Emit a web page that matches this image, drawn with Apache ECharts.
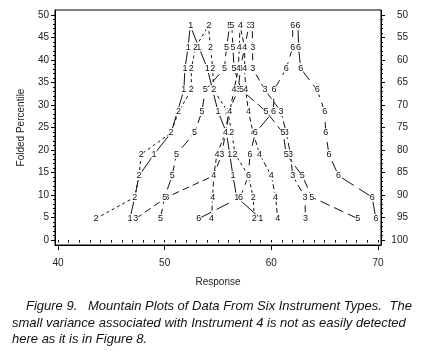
<!DOCTYPE html>
<html>
<head>
<meta charset="utf-8">
<script src="https://cdn.jsdelivr.net/npm/echarts@6/dist/echarts.min.js"></script>
<style>
html,body{margin:0;padding:0;background:#fff;}
#chart{width:426px;height:359px;}
</style>
</head>
<body>
<div id="chart"></div>
<script>
// Folded percentiles (20 observations per instrument, i/21 folded at 50)
const foldedPct = [4.76, 9.52, 14.29, 19.05, 23.81, 28.57, 33.33, 38.10, 42.86, 47.62,
                   47.62, 42.86, 38.10, 33.33, 28.57, 23.81, 19.05, 14.29, 9.52, 4.76];
// Sorted responses for each instrument type
const instrument1 = [46.75, 47.2, 47.6, 49.0, 50.6, 51.2, 51.8, 51.9, 52.2, 52.4,
                     52.45, 53.2, 54.0, 54.5, 55.0, 55.8, 56.1, 56.4, 56.75, 59.0];
const instrument2 = [43.56, 47.2, 47.6, 47.8, 50.6, 51.3, 52.5, 52.5, 52.9, 54.1,
                     54.15, 54.3, 54.5, 54.6, 55.9, 56.3, 56.6, 57.85, 58.3, 58.4];
const instrument3 = [47.3, 50.2, 54.6, 55.35, 55.7, 56.0, 56.9, 57.1, 57.5, 57.9,
                     58.2, 58.25, 58.25, 59.4, 60.9, 61.4, 61.8, 62.0, 63.15, 63.2];
const instrument4 = [54.4, 54.5, 54.6, 54.9, 55.7, 56.1, 56.5, 56.9, 57.0, 57.06,
                     57.1, 57.5, 57.5, 57.6, 57.85, 58.3, 58.9, 60.0, 60.4, 60.6];
const instrument5 = [49.6, 50.0, 50.7, 51.1, 52.8, 53.5, 53.8, 55.6, 55.8, 56.1,
                     56.3, 56.4, 56.5, 57.2, 59.5, 61.1, 61.4, 62.9, 63.8, 68.1];
const instrument6 = [53.2, 57.1, 57.85, 58.0, 58.5, 60.2, 60.25, 61.4, 62.0, 62.0,
                     62.5, 62.55, 62.75, 64.3, 65.0, 65.1, 65.4, 66.3, 69.45, 69.8];
const instrumentNames = ['1', '2', '3', '4', '5', '6'];
const xTicks = [40, 50, 60, 70];
const yTicks = [0, 5, 10, 15, 20, 25, 30, 35, 40, 45, 50];
const rightLabels = ['100', '95', '90', '85', '80', '75', '70', '65', '60', '55', '50'];
const captionParts = [
  'Figure 9.',
  'Mountain Plots of Data From Six Instrument Types.',
  'The',
  'small variance associated with Instrument 4 is not as easily detected',
  'here as it is in Figure 8.'
];

const allSeries = [instrument1, instrument2, instrument3, instrument4, instrument5, instrument6];
const dashes = ['solid', [3, 3], [7, 4], [5, 3], [10, 5], [14, 6]];

const xMinor = []; for (let v = 40; v <= 70; v++) xMinor.push(v);
const yMinor = []; for (let v = 0; v <= 50; v++) yMinor.push(v);

const FONT = '"Liberation Sans", Arial, sans-serif';
const CAP = 'italic 13px ' + FONT;
const axisCommon = {
  type: 'value', splitLine: {show: false},
  axisLine: {show: true, onZero: false, lineStyle: {color: '#000', width: 1}}
};
const X_MIN = 39.72, X_MAX = 70.28, Y_MIN = -1.11, Y_MAX = 51.11;

const chart = echarts.init(document.getElementById('chart'), null, {renderer: 'canvas'});
chart.setOption({
  animation: false,
  backgroundColor: '#fff',
  grid: {left: 55, right: 45, top: 10, bottom: 114, show: true, borderColor: '#000', borderWidth: 1},
  xAxis: [
    Object.assign({}, axisCommon, {
      min: X_MIN, max: X_MAX, position: 'bottom',
      axisTick: {show: true, customValues: xTicks, length: 5, lineStyle: {color: '#000'}},
      axisLabel: {customValues: xTicks, margin: 13, fontSize: 10, color: '#222', fontFamily: FONT},
      name: 'Response', nameLocation: 'middle', nameGap: 32,
      nameTextStyle: {fontSize: 10, color: '#222', fontFamily: FONT}
    }),
    Object.assign({}, axisCommon, {
      min: X_MIN, max: X_MAX, position: 'bottom',
      axisLine: {show: false},
      axisTick: {show: true, customValues: xMinor, length: 2.5, lineStyle: {color: '#000'}},
      axisLabel: {show: false}
    })
  ],
  yAxis: [
    Object.assign({}, axisCommon, {
      min: Y_MIN, max: Y_MAX, position: 'left',
      axisTick: {show: true, customValues: yTicks, length: 4, lineStyle: {color: '#000'}},
      axisLabel: {customValues: yTicks, margin: 6, fontSize: 10, color: '#222', fontFamily: FONT},
      name: 'Folded Percentile', nameLocation: 'middle', nameGap: 29, nameRotate: 90,
      nameTextStyle: {fontSize: 10, color: '#222', fontFamily: FONT}
    }),
    Object.assign({}, axisCommon, {
      min: Y_MIN, max: Y_MAX, position: 'left',
      axisLine: {show: false},
      axisTick: {show: true, customValues: yMinor, length: 2, lineStyle: {color: '#000'}},
      axisLabel: {show: false}
    }),
    Object.assign({}, axisCommon, {
      min: Y_MIN, max: Y_MAX, position: 'right',
      axisTick: {show: true, customValues: yTicks, length: 4, lineStyle: {color: '#000'}},
      axisLabel: {customValues: yTicks, margin: 27, align: 'right', fontSize: 10, color: '#222', fontFamily: FONT,
        formatter: v => rightLabels[yTicks.indexOf(Math.round(v))] || ''}
    }),
    Object.assign({}, axisCommon, {
      min: Y_MIN, max: Y_MAX, position: 'right',
      axisLine: {show: false},
      axisTick: {show: true, customValues: yMinor, length: 2, lineStyle: {color: '#000'}},
      axisLabel: {show: false}
    })
  ],
  series: allSeries.map((vals, i) => ({
    type: 'line',
    name: instrumentNames[i],
    xAxisIndex: 0, yAxisIndex: 0,
    data: vals.map((x, j) => [x, foldedPct[j]]),
    symbol: 'circle', symbolSize: 1, showSymbol: true,
    itemStyle: {color: 'rgba(0,0,0,0)'},
    lineStyle: {color: '#111', width: 1, type: dashes[i]},
    label: {show: true, position: 'inside', formatter: instrumentNames[i],
      fontSize: 9, color: '#111', fontFamily: FONT,
      backgroundColor: '#fff', padding: [0, 0]},
    z: 2
  })),
  graphic: [
    {type: 'text', left: 26, top: 300, style: {text: captionParts[0], font: CAP, fill: '#111'}},
    {type: 'text', left: 88, top: 300, style: {text: captionParts[1], font: CAP, fill: '#111'}},
    {type: 'text', right: 14, top: 300, style: {text: captionParts[2], font: CAP, fill: '#111'}},
    {type: 'text', left: 12, top: 317, style: {text: captionParts[3], font: CAP, fill: '#111'}},
    {type: 'text', left: 12, top: 333, style: {text: captionParts[4], font: CAP, fill: '#111'}}
  ]
});
</script>
</body>
</html>
